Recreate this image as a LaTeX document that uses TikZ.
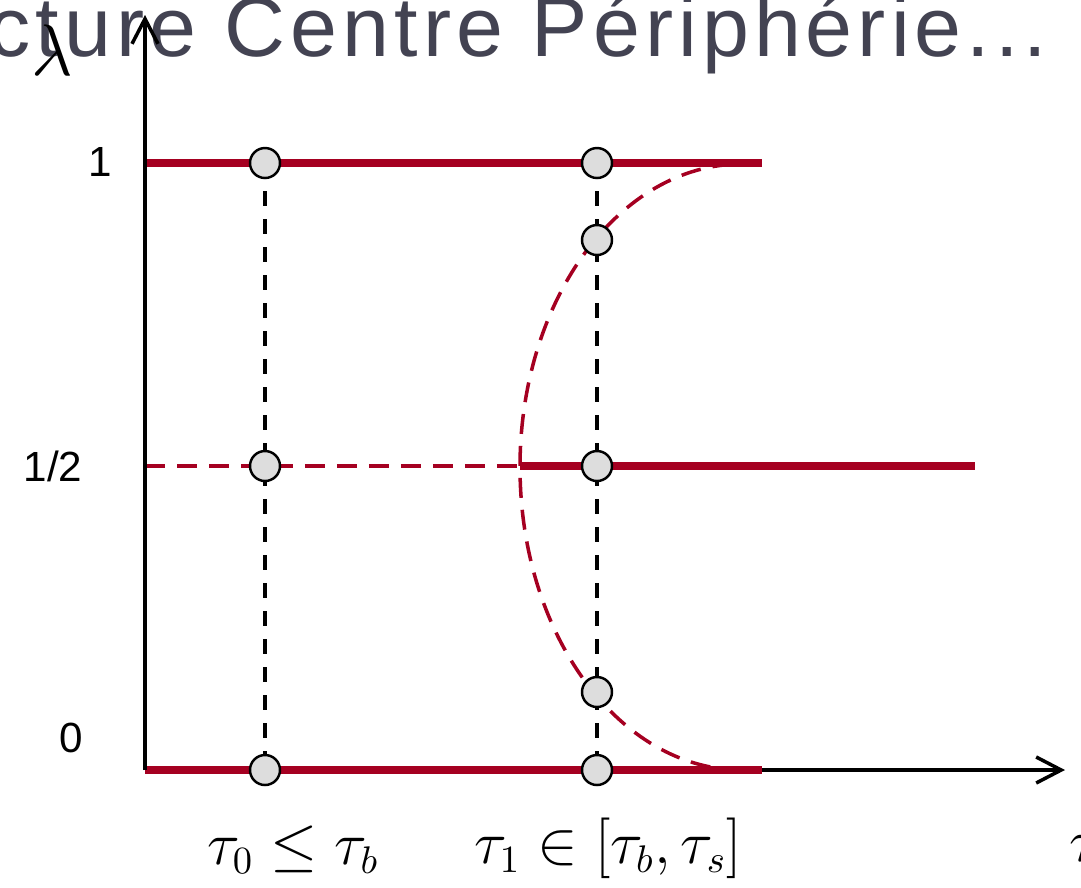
\documentclass[tikz,border=0pt]{standalone}
\usepackage{fontspec}
\setmainfont{Liberation Sans}
\newfontfamily\titlefont[LetterSpace=6]{Liberation Sans}
\usetikzlibrary{arrows.meta}
\definecolor{bordeaux}{RGB}{165,0,33}
\definecolor{slate}{RGB}{67,67,82}
\definecolor{pale}{RGB}{221,221,221}

\begin{document}
\begin{tikzpicture}[x=0.1mm,y=-0.1mm,
  dot/.style={circle,draw,fill=pale,line width=0.7pt,minimum size=3mm,inner sep=0pt},
  level/.style={bordeaux,line width=2.3pt},
  guide/.style={line width=1.2pt,dash pattern=on 1.5mm off 1.3mm},
  frontier/.style={bordeaux,line width=1pt,dash pattern=on 2mm off 1.2mm},
  axis/.style={line width=1pt,-{Straight Barb[length=2.5mm,width=2.6mm]}},
  tick/.style={font=\fontsize{12pt}{14pt}\selectfont},
  mlabel/.style={font=\fontsize{16pt}{18pt}\selectfont}]
  \useasboundingbox (0,0) rectangle (1081,887);
  \node[slate,anchor=base west,inner sep=0pt,font=\titlefont\fontsize{24pt}{24pt}\selectfont]
    (title) at (-12,56) {cture Centre Périphérie...};

  \coordinate (O) at (145,770);
  \coordinate (ytop) at (145,15);
  \coordinate (xend) at (1065,770);
  \coordinate (s1) at (145,163);
  \coordinate (sh) at (145,466);
  \coordinate (e1) at (762,163);
  \coordinate (e0) at (762,770);
  \coordinate (ch) at (520,466);
  \coordinate (eh) at (975,466);
  \coordinate (f0) at (742,770);

  \draw[axis] (O) -- (xend);
  \draw[level] (s1) -- (e1);
  \draw[level] (O) -- (e0);
  \draw[level] (ch) -- (eh);
  \draw[frontier] (sh) -- (ch);
  \draw[frontier] (f0) arc[start angle=90,end angle=270,x radius=222,y radius=303];
  \draw[axis] (O) -- (ytop);

  \coordinate (a1) at (265,163);
  \coordinate (ah) at (265,466);
  \coordinate (a0) at (265,770);
  \coordinate (b1) at (597,163);
  \coordinate (bu) at (597,240);
  \coordinate (bh) at (597,466);
  \coordinate (bl) at (597,692);
  \coordinate (b0) at (597,770);
  \draw[guide] (a1) -- (a0);
  \draw[guide] (b1) -- (b0);
  \foreach \p in {a1,ah,a0,b1,bu,bh,bl,b0}
    \node[dot] (d\p) at (\p) {};

  \node[tick] (one) at (100,162) {1};
  \node[tick] (half) at (53,466) {1/2};
  \node[tick] (zero) at (71,738) {0};
  \node[font=\fontsize{20pt}{22pt}\selectfont] (lam) at (52,50) {$\lambda$};
  \node[mlabel] (tau) at (1086,848) {$\tau$};
  \node[mlabel] (t0) at (293,850) {$\tau_0 \le \tau_b$};
  \node[mlabel] (t1) at (608,848) {$\tau_1 \in \Bigl[\tau_b, \tau_s\Bigr]$};
\end{tikzpicture}
\end{document}
